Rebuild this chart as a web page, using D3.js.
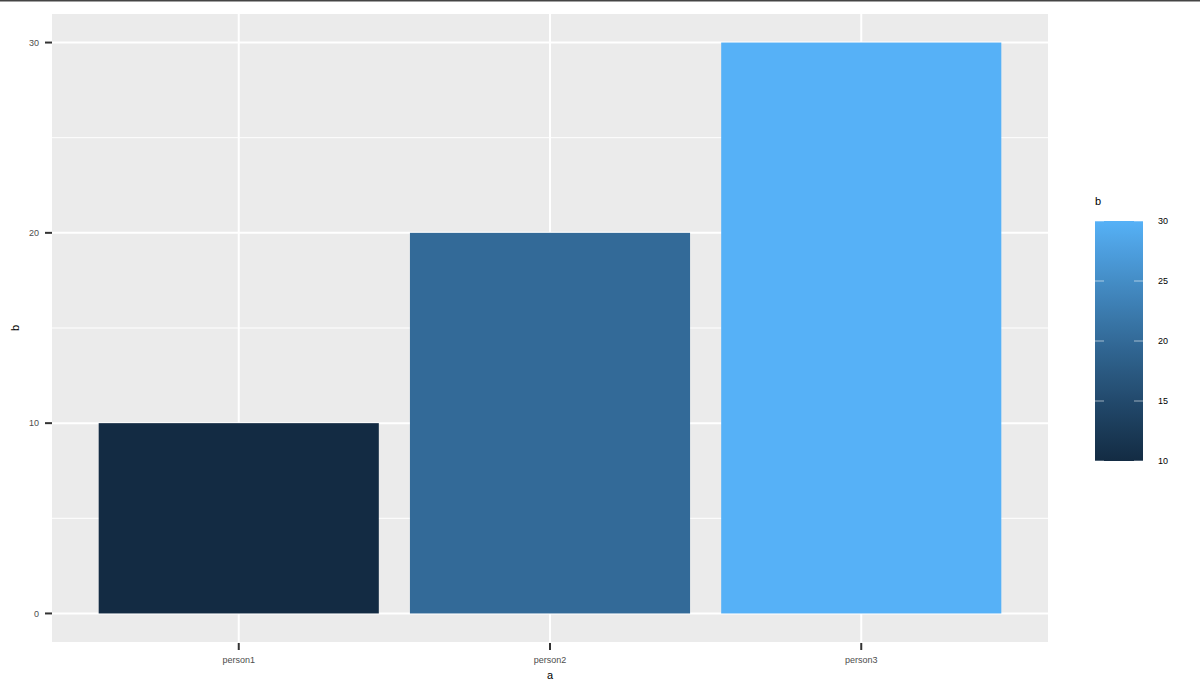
<!DOCTYPE html>
<html>
<head>
<meta charset="UTF-8">
<script src="https://d3js.org/d3.v7.min.js"></script>
<style>
  body { margin: 0; background: #fff; }
  text { font-family: "Liberation Sans", Arial, sans-serif; }
</style>
</head>
<body>
<div id="chart"></div>
<script>
var categories = ["person1", "person2", "person3"];
var values = [10, 20, 30];
var yTicks = [0, 10, 20, 30];
var yMinor = [5, 15, 25];
var legendTicks = [10, 15, 20, 25, 30];

var width = 1200, height = 696;
var panel = { left: 52, right: 1048, top: 14, bottom: 642 };

var svg = d3.select("#chart").append("svg")
    .attr("width", width)
    .attr("height", height);

svg.append("rect").attr("x", 0).attr("y", 0).attr("width", width).attr("height", 1.5).attr("fill", "#444");

// ggplot discrete axis: 0.6 expansion each side, bars 0.9 wide
var x = d3.scalePoint()
    .domain(categories)
    .range([panel.left, panel.right])
    .padding(0.6);
var barW = x.step() * 0.9;

var y = d3.scaleLinear().domain([-1.5, 31.5]).range([panel.bottom, panel.top]);

var color = d3.scaleLinear().domain([10, 30]).range(["#132B43", "#56B1F7"]).interpolate(d3.interpolateLab);

var g = svg.append("g");
g.append("rect")
    .attr("x", panel.left).attr("y", panel.top)
    .attr("width", panel.right - panel.left).attr("height", panel.bottom - panel.top)
    .attr("fill", "#ebebeb");

g.selectAll(".minor").data(yMinor).enter().append("line")
    .attr("x1", panel.left).attr("x2", panel.right)
    .attr("y1", function(d) { return y(d); }).attr("y2", function(d) { return y(d); })
    .attr("stroke", "#fff").attr("stroke-width", 1);

g.selectAll(".major").data(yTicks).enter().append("line")
    .attr("x1", panel.left).attr("x2", panel.right)
    .attr("y1", function(d) { return y(d); }).attr("y2", function(d) { return y(d); })
    .attr("stroke", "#fff").attr("stroke-width", 2);

g.selectAll(".vmajor").data(categories).enter().append("line")
    .attr("y1", panel.top).attr("y2", panel.bottom)
    .attr("x1", function(d) { return x(d); }).attr("x2", function(d) { return x(d); })
    .attr("stroke", "#fff").attr("stroke-width", 2);

g.selectAll(".bar").data(values).enter().append("rect")
    .attr("x", function(d, i) { return x(categories[i]) - barW / 2; })
    .attr("width", barW)
    .attr("y", function(d) { return y(d); })
    .attr("height", function(d) { return y(0) - y(d); })
    .attr("fill", function(d) { return color(d); });

// y axis
var yAxis = svg.append("g");
yAxis.selectAll("line").data(yTicks).enter().append("line")
    .attr("x1", panel.left - 7).attr("x2", panel.left)
    .attr("y1", function(d) { return y(d); }).attr("y2", function(d) { return y(d); })
    .attr("stroke", "#333").attr("stroke-width", 2);
yAxis.selectAll("text").data(yTicks).enter().append("text")
    .attr("x", panel.left - 13).attr("y", function(d) { return y(d); })
    .attr("dy", "0.35em").attr("text-anchor", "end")
    .attr("font-size", 9).attr("fill", "#4d4d4d")
    .text(function(d) { return d; });

// x axis
var xAxis = svg.append("g");
xAxis.selectAll("line").data(categories).enter().append("line")
    .attr("x1", function(d) { return x(d); }).attr("x2", function(d) { return x(d); })
    .attr("y1", panel.bottom + 1).attr("y2", panel.bottom + 8)
    .attr("stroke", "#333").attr("stroke-width", 2);
xAxis.selectAll("text").data(categories).enter().append("text")
    .attr("x", function(d) { return x(d); }).attr("y", 663)
    .attr("text-anchor", "middle")
    .attr("font-size", 9).attr("fill", "#4d4d4d")
    .text(function(d) { return d; });

svg.append("text").attr("x", (panel.left + panel.right) / 2).attr("y", 679)
    .attr("text-anchor", "middle").attr("font-size", 11).attr("fill", "#000").text("a");
svg.append("text").attr("transform", "translate(19," + ((panel.top + panel.bottom) / 2) + ") rotate(-90)")
    .attr("text-anchor", "middle").attr("font-size", 11).attr("fill", "#000").text("b");

// legend colourbar
var lg = { x: 1095, y: 221, w: 48, h: 240 };
var ly = d3.scaleLinear().domain([10, 30]).range([lg.y + lg.h, lg.y]);
var defs = svg.append("defs");
var grad = defs.append("linearGradient").attr("id", "cbar")
    .attr("x1", 0).attr("y1", 1).attr("x2", 0).attr("y2", 0);
d3.range(0, 21).forEach(function(i) {
    grad.append("stop").attr("offset", i / 20).attr("stop-color", color(10 + i));
});
svg.append("text").attr("x", lg.x).attr("y", 205).attr("font-size", 11).attr("fill", "#000").text("b");
svg.append("rect").attr("x", lg.x).attr("y", lg.y).attr("width", lg.w).attr("height", lg.h)
    .attr("fill", "url(#cbar)");
var lt = svg.append("g");
lt.selectAll(".tl").data(legendTicks).enter().append("line")
    .attr("x1", lg.x).attr("x2", lg.x + 9)
    .attr("y1", function(d) { return ly(d); }).attr("y2", function(d) { return ly(d); })
    .attr("stroke", "#fff").attr("stroke-opacity", 0.55).attr("stroke-width", 1);
lt.selectAll(".tr").data(legendTicks).enter().append("line")
    .attr("x1", lg.x + lg.w - 9).attr("x2", lg.x + lg.w)
    .attr("y1", function(d) { return ly(d); }).attr("y2", function(d) { return ly(d); })
    .attr("stroke", "#fff").attr("stroke-opacity", 0.55).attr("stroke-width", 1);
lt.selectAll("text").data(legendTicks).enter().append("text")
    .attr("x", 1158).attr("y", function(d) { return ly(d); }).attr("dy", "0.35em")
    .attr("font-size", 9).attr("fill", "#000")
    .text(function(d) { return d; });
</script>
</body>
</html>
